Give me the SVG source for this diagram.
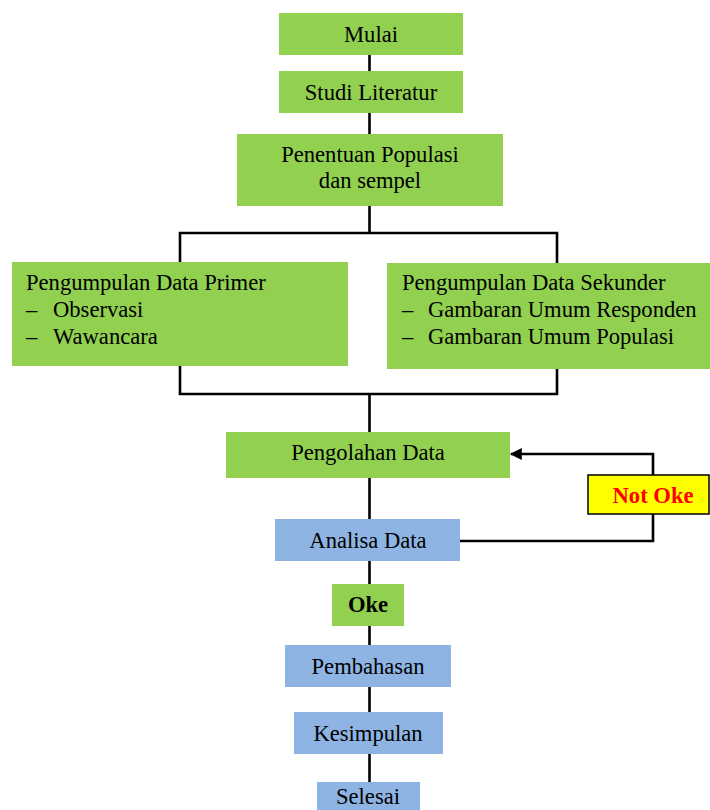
<svg xmlns="http://www.w3.org/2000/svg" width="710" height="810" viewBox="0 0 710 810">
<defs>
<style>
.g{fill:#92D050}
.b{fill:#8EB4E3}
.t{font-family:"Liberation Serif","Times New Roman",serif;font-size:22.6px;fill:#000}
.c{text-anchor:middle}
.bold{font-weight:bold}
.ln{stroke:#000;stroke-width:2.6;fill:none}
</style>
<marker id="arr" viewBox="0 0 10 10" refX="9" refY="5" markerWidth="13" markerHeight="12" markerUnits="userSpaceOnUse" orient="auto">
<path d="M0,0 L10,5 L0,10 Z" fill="#000"/>
</marker>
</defs>
<rect width="710" height="810" fill="#fff"/>
<g id="connectors">
<path class="ln" d="M369.5,55 V71 M369.5,113 V134 M369.5,206 V233 M180,233 H557 V394 H180 Z M369.5,394 V432 M369.5,478 V519 M369.5,561 V584 M369.5,626 V645 M369.5,687 V712 M369.5,754 V782"/>
<path class="ln" d="M460,541 H653 V514"/>
<path class="ln" d="M653,475 V454 H511" marker-end="url(#arr)"/>
</g>
<g id="mulai"><rect class="g" x="279" y="13" width="184" height="42"/><text class="t c" x="371" y="42">Mulai</text></g>
<g id="studi"><rect class="g" x="279" y="71" width="184" height="42"/><text class="t c" x="371" y="100">Studi Literatur</text></g>
<g id="penentuan"><rect class="g" x="237" y="134" width="266" height="72"/><text class="t c" x="370" y="162">Penentuan Populasi</text><text class="t c" x="370" y="188">dan sempel</text></g>
<g id="primer"><rect class="g" x="12" y="262" width="336" height="104"/>
<text class="t" x="26" y="290">Pengumpulan Data Primer</text>
<text class="t" x="26" y="317">–</text><text class="t" x="53" y="317">Observasi</text>
<text class="t" x="26" y="344">–</text><text class="t" x="53" y="344">Wawancara</text></g>
<g id="sekunder"><rect class="g" x="387" y="263" width="323" height="106"/>
<text class="t" x="402" y="290">Pengumpulan Data Sekunder</text>
<text class="t" x="402" y="317">–</text><text class="t" x="428" y="317">Gambaran Umum Responden</text>
<text class="t" x="402" y="344">–</text><text class="t" x="428" y="344">Gambaran Umum Populasi</text></g>
<g id="pengolahan"><rect class="g" x="226" y="432" width="284" height="46"/><text class="t c" x="368" y="460">Pengolahan Data</text></g>
<g id="notoke"><rect x="588" y="475" width="121" height="39" fill="#FFFF00" stroke="#000" stroke-width="1.5"/><text class="t c bold" x="653" y="503" style="fill:#FF0000">Not Oke</text></g>
<g id="analisa"><rect class="b" x="275" y="519" width="185" height="42"/><text class="t c" x="368" y="548">Analisa Data</text></g>
<g id="oke"><rect class="g" x="332" y="584" width="72" height="42"/><text class="t c bold" x="368" y="612">Oke</text></g>
<g id="pembahasan"><rect class="b" x="285" y="645" width="166" height="42"/><text class="t c" x="368" y="674">Pembahasan</text></g>
<g id="kesimpulan"><rect class="b" x="294" y="712" width="149" height="42"/><text class="t c" x="368" y="741">Kesimpulan</text></g>
<g id="selesai"><rect class="b" x="317" y="782" width="103" height="42"/><text class="t c" x="368" y="804">Selesai</text></g>
</svg>
